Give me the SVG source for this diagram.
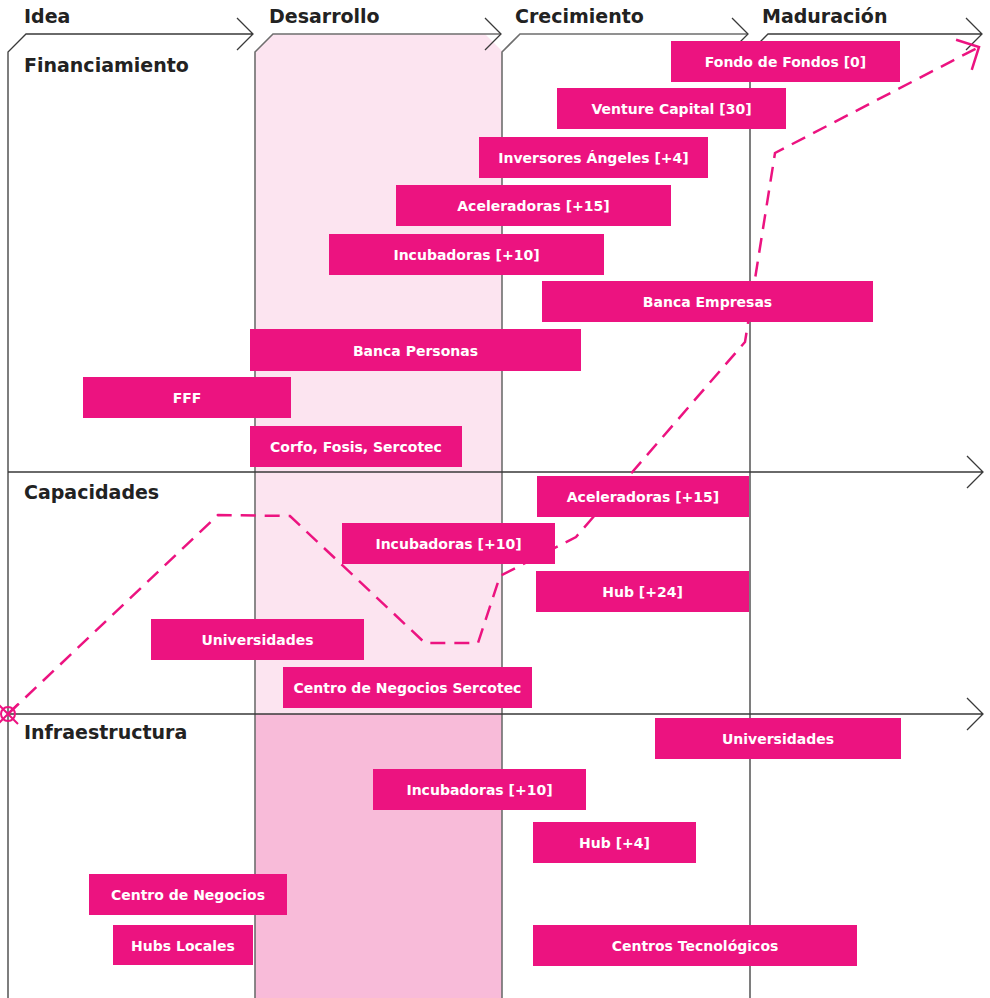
<svg xmlns="http://www.w3.org/2000/svg" width="990" height="998" viewBox="0 0 990 998">
<style>
.bg{fill:#ffffff}
.grid{fill:none;stroke:#3a3a3a;stroke-width:1.3}
.gridg{fill:none;stroke:#6e6e6e;stroke-width:1.6}
.hdr{font-family:"DejaVu Sans","Liberation Sans",sans-serif;font-weight:700;font-size:19px;fill:#222222}
.box{fill:#ec1380}
.lbl{font-family:"DejaVu Sans","Liberation Sans",sans-serif;font-weight:700;font-size:14px;fill:#ffffff;text-anchor:middle}
.trend{fill:none;stroke:#ec1380;stroke-width:2.5;stroke-dasharray:15 9}
</style>
<defs>
<marker id="arr" viewBox="-20 -20 24 40" markerWidth="24" markerHeight="40" refX="0" refY="0" orient="auto" markerUnits="userSpaceOnUse">
<path d="M-17,-17 L0,0 L-17,17" fill="none" stroke="#ec1380" stroke-width="2.5"/>
</marker>
</defs>
<rect class="bg" x="0" y="0" width="990" height="998"/>
<g id="bands">
<polygon points="255,52 273,34 485,34 502,51 502,714 255,714" fill="#fce4f0"/>
<rect x="255" y="714" width="247" height="284" fill="#f8bbd9"/>
</g>
<g id="phases">
<path class="grid" d="M8,998 V52 L26,34 H253 M237,18 L253,34 L237,50"/>
<path class="gridg" d="M255,998 V52 L273,34 H501"/>
<path class="grid" d="M485,18 L501,34 L485,50"/>
<path class="gridg" d="M502,998 V52 L520,34 H748"/>
<path class="grid" d="M732,18 L748,34 L732,50"/>
<path class="grid" d="M750,998 V52 L768,34 H982 M966,18 L982,34 L966,50"/>
<path class="grid" d="M8,472 H983 M967,456 L983,472 L967,488"/>
<path class="grid" d="M8,714 H983 M967,698 L983,714 L967,730"/>
<text class="hdr" x="24" y="23">Idea</text>
<text class="hdr" x="269" y="23">Desarrollo</text>
<text class="hdr" x="515" y="23">Crecimiento</text>
<text class="hdr" x="762" y="23">Maduración</text>
<text class="hdr" x="24" y="72">Financiamiento</text>
<text class="hdr" x="24" y="499">Capacidades</text>
<text class="hdr" x="24" y="739">Infraestructura</text>
</g>
<g id="connectors">
<path class="trend" d="M8,714 L218,515 L290,516 L425,643 L478,643 L500,576 L576,537 L745,342 L775,153 L979,47" marker-end="url(#arr)"/>
<g id="start-marker" fill="none" stroke="#ec1380" stroke-width="2">
<circle cx="8" cy="714" r="7"/>
<path d="M-2,704 L18,724 M-2,724 L18,704"/>
</g>
</g>
<g id="fin-fondo"><rect class="box" x="671" y="41" width="229" height="41"/><text class="lbl" x="785.5" y="67">Fondo de Fondos [0]</text></g>
<g id="fin-vc"><rect class="box" x="557" y="88" width="229" height="41"/><text class="lbl" x="671.5" y="114">Venture Capital [30]</text></g>
<g id="fin-angeles"><rect class="box" x="479" y="137" width="229" height="41"/><text class="lbl" x="593.5" y="163">Inversores Ángeles [+4]</text></g>
<g id="fin-acel"><rect class="box" x="396" y="185" width="275" height="41"/><text class="lbl" x="533.5" y="211">Aceleradoras [+15]</text></g>
<g id="fin-incub"><rect class="box" x="329" y="234" width="275" height="41"/><text class="lbl" x="466.5" y="260">Incubadoras [+10]</text></g>
<g id="fin-bancaemp"><rect class="box" x="542" y="281" width="331" height="41"/><text class="lbl" x="707.5" y="307">Banca Empresas</text></g>
<g id="fin-bancaper"><rect class="box" x="250" y="329" width="331" height="42"/><text class="lbl" x="415.5" y="355.5">Banca Personas</text></g>
<g id="fin-fff"><rect class="box" x="83" y="377" width="208" height="41"/><text class="lbl" x="187" y="403">FFF</text></g>
<g id="fin-corfo"><rect class="box" x="250" y="426" width="212" height="41"/><text class="lbl" x="356" y="452">Corfo, Fosis, Sercotec</text></g>
<g id="cap-acel"><rect class="box" x="537" y="476" width="212" height="41"/><text class="lbl" x="643" y="502">Aceleradoras [+15]</text></g>
<g id="cap-incub"><rect class="box" x="342" y="523" width="213" height="41"/><text class="lbl" x="448.5" y="549">Incubadoras [+10]</text></g>
<g id="cap-hub"><rect class="box" x="536" y="571" width="213" height="41"/><text class="lbl" x="642.5" y="597">Hub [+24]</text></g>
<g id="cap-univ"><rect class="box" x="151" y="619" width="213" height="41"/><text class="lbl" x="257.5" y="645">Universidades</text></g>
<g id="cap-cns"><rect class="box" x="283" y="667" width="249" height="41"/><text class="lbl" x="407.5" y="693">Centro de Negocios Sercotec</text></g>
<g id="inf-univ"><rect class="box" x="655" y="718" width="246" height="41"/><text class="lbl" x="778" y="744">Universidades</text></g>
<g id="inf-incub"><rect class="box" x="373" y="769" width="213" height="41"/><text class="lbl" x="479.5" y="795">Incubadoras [+10]</text></g>
<g id="inf-hub"><rect class="box" x="533" y="822" width="163" height="41"/><text class="lbl" x="614.5" y="848">Hub [+4]</text></g>
<g id="inf-cn"><rect class="box" x="89" y="874" width="198" height="41"/><text class="lbl" x="188" y="900">Centro de Negocios</text></g>
<g id="inf-hubs"><rect class="box" x="113" y="925" width="140" height="40"/><text class="lbl" x="183" y="950.5">Hubs Locales</text></g>
<g id="inf-ct"><rect class="box" x="533" y="925" width="324" height="41"/><text class="lbl" x="695" y="951">Centros Tecnológicos</text></g>
</svg>
